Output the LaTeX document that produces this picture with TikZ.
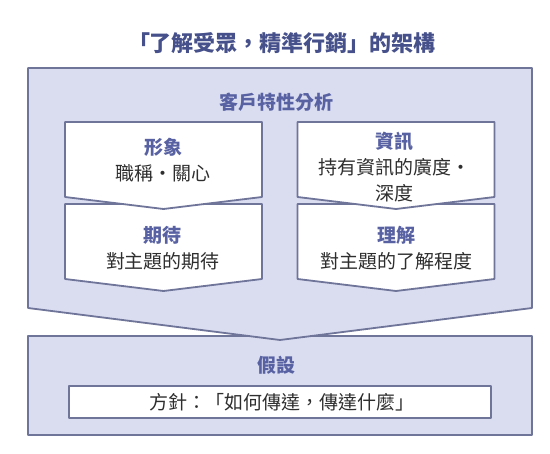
\documentclass[tikz,border=0pt]{standalone}
\usepackage{fontspec}
\setmainfont{Noto Sans CJK TC}
\usepackage{tikz}
\definecolor{marco}{HTML}{6F7499}
\definecolor{fondo}{HTML}{DADDF0}
\definecolor{titulo}{HTML}{46508A}
\definecolor{cabeza}{HTML}{5862A3}
\definecolor{texto}{HTML}{2E2E2E}

\begin{document}
\begin{tikzpicture}[x=1pt,y=-1pt,
        caja/.style={draw=marco,line width=1.8pt,line join=round},
        cabecera/.style={font=\fontsize{19}{26}\selectfont\bfseries,text=cabeza},
        cuerpo/.style={font=\fontsize{19}{26}\selectfont,text=texto,align=center}]
        \useasboundingbox (0,0) rectangle (550,454);
        % Caja inferior y flecha grande
        \draw[caja,fill=fondo] (28,336) rectangle (532,435);
        \draw[caja,fill=fondo] (28,68) -- (532,68) -- (532,308) -- (280,340) -- (28,308) -- cycle;
        \draw[caja,fill=white] (69,386) rectangle (491,418);
        % Flechas pequeñas (fila de abajo primero)
        \foreach \cx/\ty in {163.5/204,396/204,163.5/122,396/122} {
            \draw[caja,fill=white] (\cx-98.5,\ty) -- (\cx+98.5,\ty) -- (\cx+98.5,\ty+75)
                -- (\cx,\ty+87) -- (\cx-98.5,\ty+75) -- cycle;
        }
        % Textos
        \node[font=\fontsize{22}{24}\selectfont\bfseries,text=titulo] (title) at (282,43) {「了解受眾，精準行銷」的架構};
        \node[cabecera] (analysis) at (276,102) {客戶特性分析};
        \node[cuerpo] (image) at (163,160) {{\bfseries\color{cabeza}形象}\\職稱・關心};
        \node[cuerpo] (info) at (394,167) {{\bfseries\color{cabeza}資訊}\\持有資訊的廣度・\\深度};
        \node[cuerpo] (expect) at (163,248) {{\bfseries\color{cabeza}期待}\\對主題的期待};
        \node[cuerpo] (grasp) at (396,248) {{\bfseries\color{cabeza}理解}\\對主題的了解程度};
        \node[cabecera] (hypo) at (276,365) {假設};
        \node[cuerpo] (policy) at (282,402) {方針：「如何傳達，傳達什麼」};
    \end{tikzpicture}
\end{document}
